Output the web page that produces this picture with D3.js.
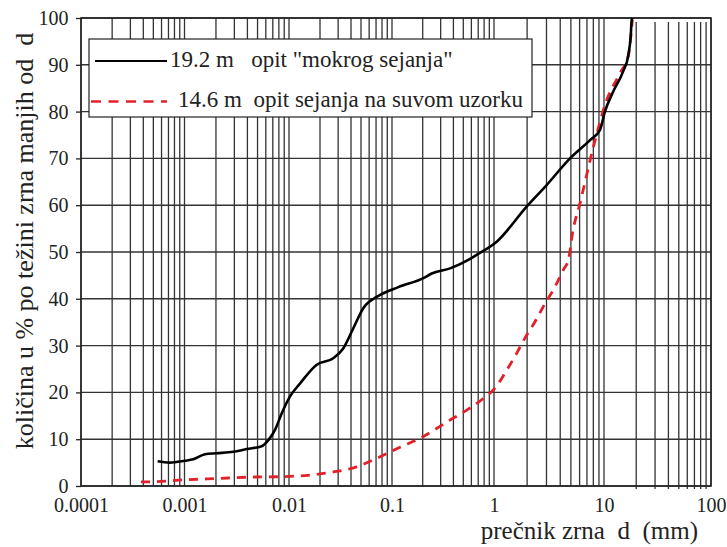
<!DOCTYPE html>
<html>
<head>
<meta charset="utf-8">
<script src="https://cdn.jsdelivr.net/npm/d3@7"></script>
<style>
  html, body { margin: 0; padding: 0; background: #fff; }
  svg { display: block; }
</style>
</head>
<body>
<svg id="chart" width="727" height="547"></svg>
<script>
// ---------------- data ----------------
const xTickValues = [0.0001, 0.001, 0.01, 0.1, 1, 10, 100];
const xTickLabels = ["0.0001", "0.001", "0.01", "0.1", "1", "10", "100"];
const yTickValues = [0, 10, 20, 30, 40, 50, 60, 70, 80, 90, 100];
const minorMultipliers = [2, 3, 4, 5, 6, 7, 8, 9];

const seriesNames = ['19.2 m   opit "mokrog sejanja"', '14.6 m  opit sejanja na suvom uzorku'];

// grain diameter d (mm), percent passing
const wetSieve = [
  [0.00055, 5.3], [0.00072, 5.0], [0.00101, 5.4], [0.00121, 5.7], [0.00157, 6.8],
  [0.00203, 7.0], [0.00293, 7.3], [0.00394, 7.9], [0.00548, 8.5], [0.00634, 9.8],
  [0.00735, 12.0], [0.00851, 15.5], [0.0102, 19.1], [0.0128, 21.9], [0.0186, 25.9],
  [0.0269, 27.3], [0.0336, 29.4], [0.0421, 33.7], [0.0526, 38.0], [0.0710, 40.4],
  [0.1153, 42.5], [0.203, 44.4], [0.245, 45.4], [0.371, 46.5], [0.560, 48.3],
  [0.676, 49.4], [1.058, 52.2], [1.98, 59.7], [3.01, 64.3], [4.91, 70.0],
  [7.46, 73.9], [9.20, 76.1], [10.2, 80.0], [12.2, 84.3], [15.1, 88.6],
  [16.9, 92.1], [17.8, 96.4], [18.1, 99.3], [18.4, 100]
];
const drySieve = [
  [0.00038, 0.9], [0.000465, 0.9], [0.00097, 1.3], [0.00203, 1.6], [0.00424, 1.9],
  [0.00881, 2.0], [0.0186, 2.5], [0.029, 3.1], [0.0454, 4.1], [0.071, 5.9],
  [0.12, 8.3], [0.188, 10.2], [0.371, 14.1], [0.54, 16.2], [0.785, 18.7],
  [1.02, 20.9], [1.31, 24.8], [1.61, 28.4], [1.91, 31.6], [2.36, 35.1],
  [2.91, 39.0], [3.46, 41.9], [4.27, 46.2], [4.74, 48.3], [5.23, 54.7],
  [5.99, 60.0], [6.58, 64.0], [7.54, 70.0], [8.87, 76.4], [10.2, 81.4],
  [14.1, 88.2], [16.9, 92.0], [18.4, 99.6]
];

// ---------------- layout ----------------
const FONT = "'Liberation Serif', 'DejaVu Serif', serif";
const plot = { left: 81, right: 711, top: 18, bottom: 486 };
const svg = d3.select("#chart");

// The printed grid is not perfectly uniform: piecewise log scale through decade lines
const x = d3.scaleLog()
  .domain(xTickValues)
  .range([81, 184.5, 289, 392, 494, 604, 711]);
const y = d3.scaleLinear().domain([0, 100]).range([plot.bottom, plot.top]);

// grid values
const gridX = [];
xTickValues.slice(0, -1).forEach(dec => {
  gridX.push(dec);
  minorMultipliers.forEach(m => gridX.push(dec * m));
});
gridX.push(100);

const gGrid = svg.append("g");
gGrid.selectAll("line.v").data(gridX).join("line")
  .attr("class", "v")
  .attr("x1", d => x(d)).attr("x2", d => x(d))
  .attr("y1", d => d > 10 && d < 100 ? plot.top + 4 : plot.top)
  .attr("y2", d => d > 10 && d < 100 ? plot.bottom + 3 : plot.bottom)
  .attr("stroke", "#333").attr("stroke-width", 1.3);

gGrid.selectAll("line.h").data(yTickValues).join("line")
  .attr("class", "h")
  .attr("x1", plot.left).attr("x2", plot.right)
  .attr("y1", d => y(d)).attr("y2", d => y(d))
  .attr("stroke", "#333").attr("stroke-width", 1.4);

// frame
svg.append("rect")
  .attr("x", plot.left).attr("y", plot.top)
  .attr("width", plot.right - plot.left).attr("height", plot.bottom - plot.top)
  .attr("fill", "none").attr("stroke", "#222").attr("stroke-width", 1.5);

// axes
const yAxis = d3.axisLeft(y).tickValues(yTickValues).tickSize(5).tickPadding(7.5);
const gy = svg.append("g").attr("transform", `translate(${plot.left},0)`).call(yAxis);
gy.select(".domain").remove();
gy.selectAll(".tick line").attr("stroke", "#222").attr("stroke-width", 1.3);
gy.selectAll(".tick text").style("font-family", FONT).style("font-size", "20px").attr("fill", "#222");

const xAxis = d3.axisBottom(x).tickValues(xTickValues)
  .tickFormat((d, i) => xTickLabels[i]).tickSize(0).tickPadding(12);
const gx = svg.append("g").attr("transform", `translate(0,${plot.bottom})`).call(xAxis);
gx.select(".domain").remove();
gx.selectAll(".tick text").style("font-family", FONT).style("font-size", "20px").attr("fill", "#222");

// curves
const line = d3.line()
  .x(d => x(d[0])).y(d => y(d[1]))
  .curve(d3.curveMonotoneX);

svg.append("path").datum(drySieve)
  .attr("d", line).attr("fill", "none")
  .attr("stroke", "#e3202a").attr("stroke-width", 2.8)
  .attr("stroke-dasharray", "9,7");

svg.append("path").datum(wetSieve)
  .attr("d", line).attr("fill", "none")
  .attr("stroke", "#000").attr("stroke-width", 2.6)
  .attr("stroke-linejoin", "round");

// legend
const lg = svg.append("g");
lg.append("rect").attr("x", 89).attr("y", 39).attr("width", 443).attr("height", 78)
  .attr("fill", "#fff").attr("stroke", "#222").attr("stroke-width", 1.2);
lg.append("line").attr("x1", 95).attr("x2", 167).attr("y1", 61).attr("y2", 61)
  .attr("stroke", "#000").attr("stroke-width", 2.2);
lg.append("line").attr("x1", 91).attr("x2", 167).attr("y1", 101.5).attr("y2", 101.5)
  .attr("stroke", "#e3202a").attr("stroke-width", 2.6).attr("stroke-dasharray", "10,7.5");
lg.append("text").attr("x", 170).attr("y", 67)
  .style("font-family", FONT).style("font-size", "23px").style("white-space", "pre")
  .attr("fill", "#222").text(seriesNames[0]);
lg.append("text").attr("x", 178).attr("y", 107)
  .style("font-family", FONT).style("font-size", "23px").style("white-space", "pre")
  .attr("fill", "#222").text(seriesNames[1]);

// axis titles
svg.append("text").attr("x", 698).attr("y", 539).attr("text-anchor", "end")
  .style("font-family", FONT).style("font-size", "25px").style("white-space", "pre")
  .attr("fill", "#222").text("prečnik zrna  d  (mm)");
svg.append("text").attr("transform", "translate(33,241) rotate(-90)")
  .attr("text-anchor", "middle")
  .style("font-family", FONT).style("font-size", "26px").style("white-space", "pre")
  .attr("fill", "#222").text("količina u % po težini zrna manjih od  d");
</script>
</body>
</html>
